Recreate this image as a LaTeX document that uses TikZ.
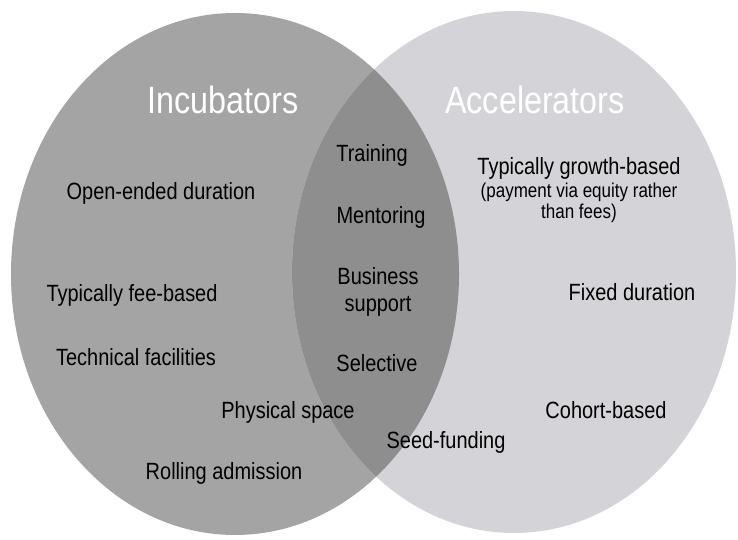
\documentclass[tikz,border=0pt]{standalone}
\usepackage{fontspec}
\setmainfont{Liberation Sans}[FakeStretch=0.85]
\usepackage{tikz}
\usetikzlibrary{positioning}

\definecolor{incubgray}{RGB}{164,164,164}
\definecolor{accelgray}{RGB}{212,211,216}
\definecolor{bothgray}{RGB}{142,142,142}

\tikzset{
  titletext/.style={text=white,font=\fontsize{38}{40}\selectfont},
  itemtext/.style={text=black,font=\fontsize{23.5}{27}\selectfont,align=center,inner sep=0pt},
  smalltext/.style={text=black,font=\fontsize{20}{21}\selectfont,align=center,inner sep=0pt}
}

\begin{document}
\begin{tikzpicture}[x=1pt,y=1pt]
  \useasboundingbox (0,0) rectangle (738,540);
  \fill[white] (0,0) rectangle (738,540);
  \fill[incubgray] (235,266) ellipse [x radius=224,y radius=261];
  \fill[accelgray] (514,268) ellipse [x radius=222,y radius=261];
  \begin{scope}
    \clip (235,266) ellipse [x radius=224,y radius=261];
    \fill[bothgray] (514,268) ellipse [x radius=222,y radius=261];
  \end{scope}

  \node[titletext] (incub) at (223,440) {Incubators};
  \node[titletext] (accel) at (535,440) {Accelerators};

  \node[itemtext] (training) at (372,385) {Training};
  \node[itemtext] (mentoring) at (381,323) {Mentoring};
  \node[itemtext] (support) at (378,248) {Business\\support};
  \node[itemtext] (selective) at (377,177) {Selective};

  \node[itemtext] (openended) at (161,347) {Open-ended duration};
  \node[itemtext] (feebased) at (132,245) {Typically fee-based};
  \node[itemtext] (technical) at (136,183) {Technical facilities};
  \node[itemtext] (physical) at (288,128) {Physical space};
  \node[itemtext] (rolling) at (224,67) {Rolling admission};

  \node[itemtext] (growth) at (579,372) {Typically growth-based};
  \node[smalltext,below=4pt of growth] (payment) {(payment via equity rather\\than fees)};
  \node[itemtext] (fixed) at (632,248) {Fixed duration};
  \node[itemtext] (cohort) at (606,130) {Cohort-based};
  \node[itemtext] (seed) at (446,98) {Seed-funding};
\end{tikzpicture}
\end{document}
